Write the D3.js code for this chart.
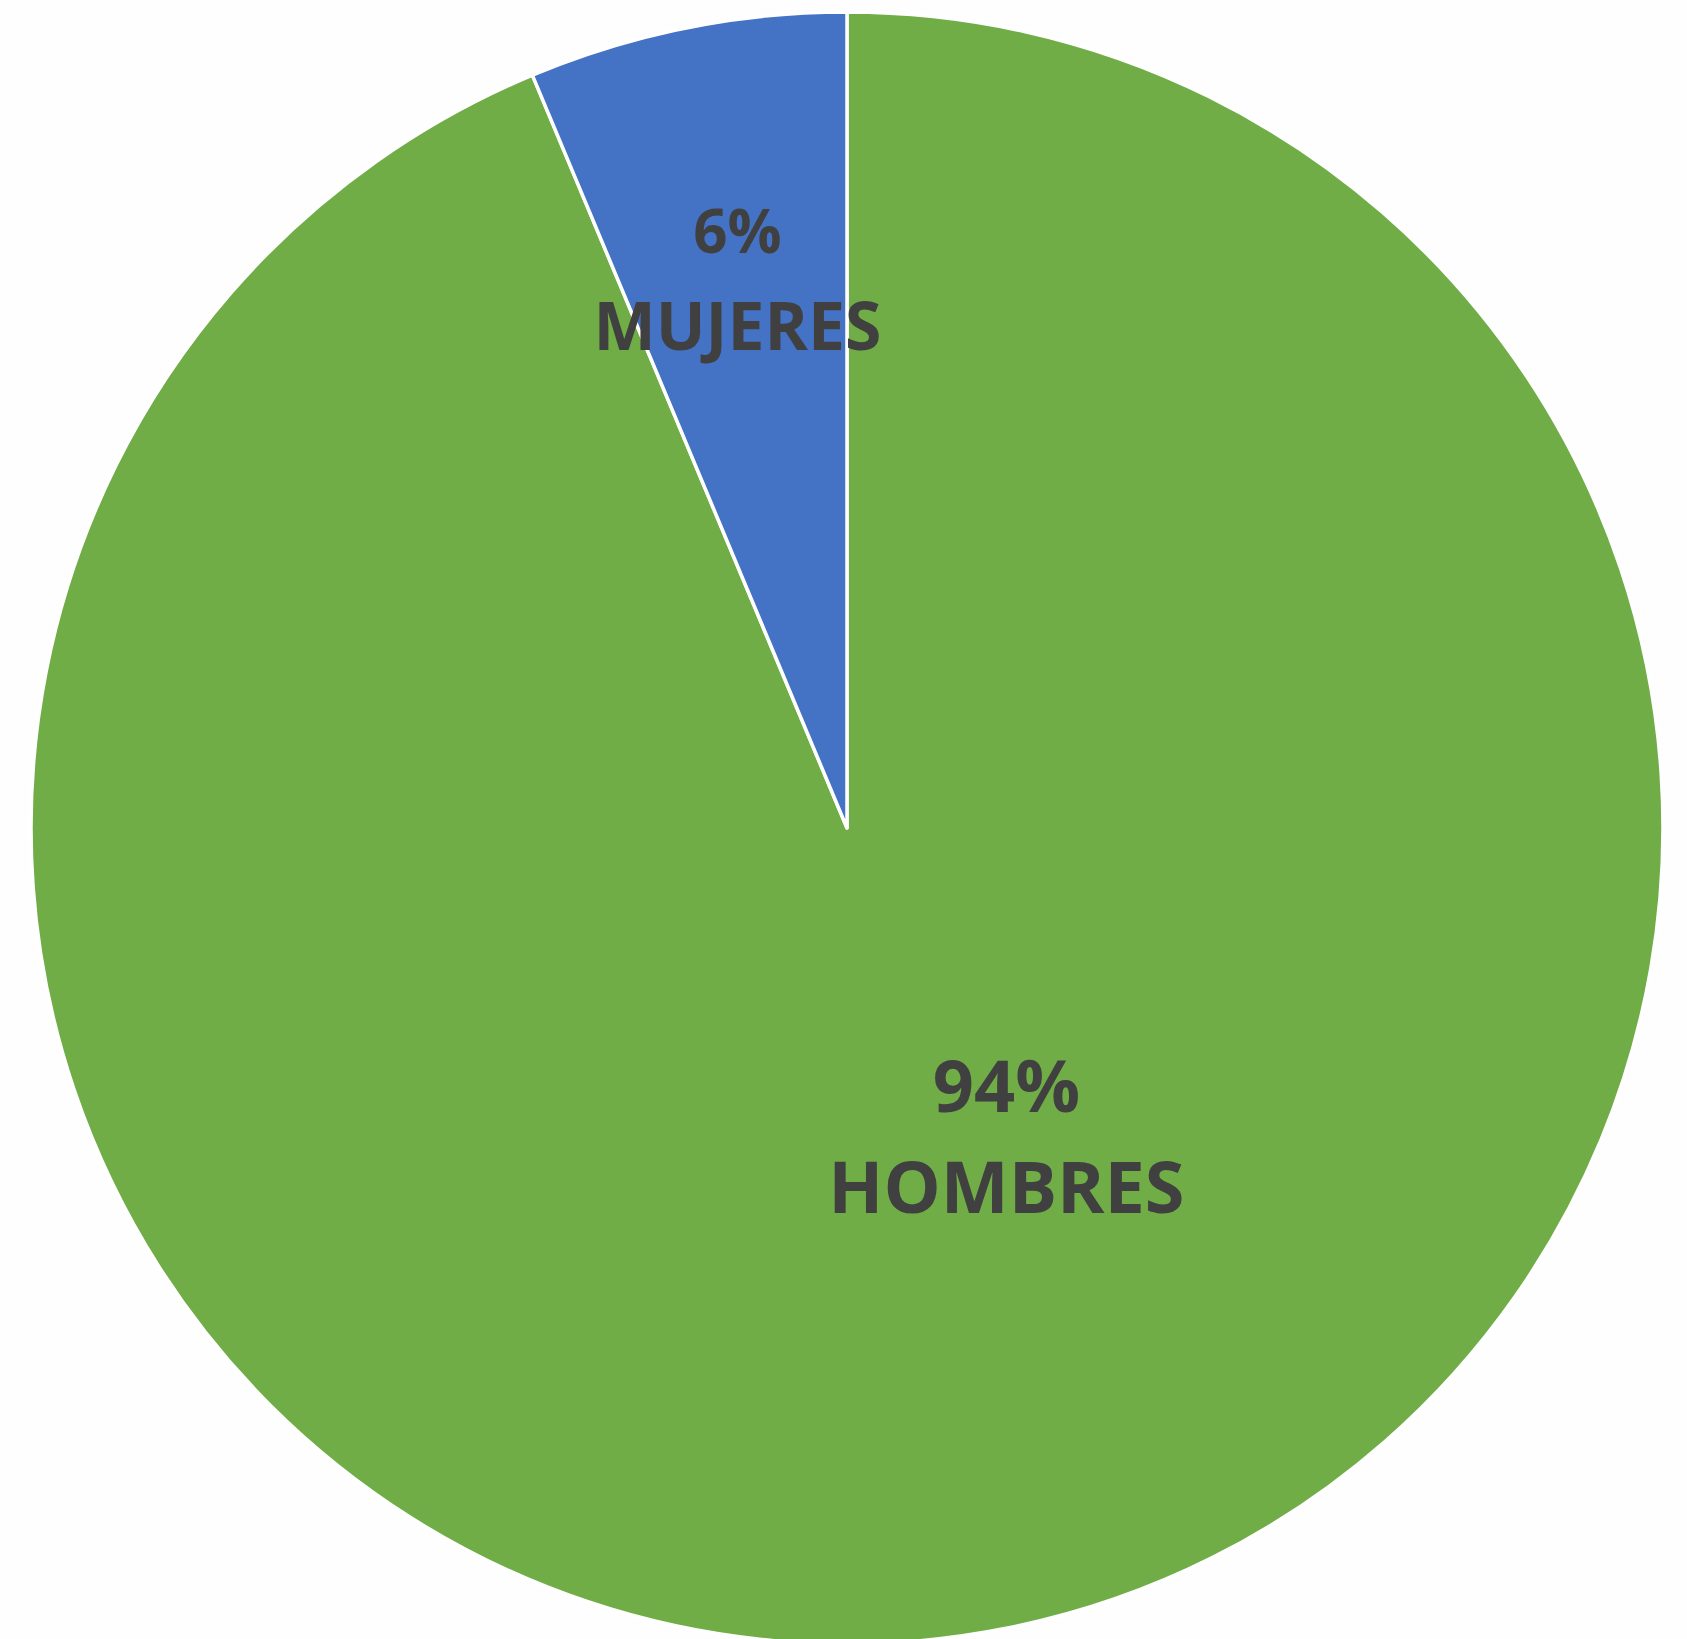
<!DOCTYPE html>
<html><head><meta charset="utf-8">
<script src="https://cdn.jsdelivr.net/npm/d3@7"></script>
<style>html,body{margin:0;padding:0;background:#fefefe;}svg{display:block;}</style>
</head><body>
<svg id="chart" width="1687" height="1639"></svg>
<script>
const categories = ["HOMBRES", "MUJERES"];
const values = [93.7, 6.3];
const colors = ["#70AD47", "#4472C4"];

const W = 1687, H = 1639;
const cx = 847, cy = 828, R = 816;
const svg = d3.select("#chart");
const g = svg.append("g").attr("transform", `translate(${cx},${cy})`);

const data = categories.map((c, i) => ({name: c, value: values[i], color: colors[i]}));
const total = d3.sum(values);
const pie = d3.pie().sort(null).value(d => d.value);
const arcs = pie(data);
const arc = d3.arc().innerRadius(0).outerRadius(R);

g.selectAll("path").data(arcs).join("path")
  .attr("d", arc)
  .attr("fill", d => d.data.color)
  .attr("stroke", "#ffffff")
  .attr("stroke-width", 3.5)
  .attr("stroke-linejoin", "round");

// label placement (best-fit style): radius fraction, angular shift (rad), line offsets and sizes
const labelLayout = {
  HOMBRES: {r: 0.424, shift: -0.281, off1: -23, off2: 78, fs1: 72, fs2: 72},
  MUJERES: {r: 0.683, shift: 0, off1: -29, off2: 68, fs1: 60, fs2: 66}
};
arcs.forEach(a => {
  const L = labelLayout[a.data.name];
  const ang = (a.startAngle + a.endAngle) / 2 + L.shift;
  const x = Math.sin(ang) * R * L.r;
  const y = -Math.cos(ang) * R * L.r;
  const t = g.append("text")
    .attr("text-anchor", "middle")
    .attr("font-family", "'Open Sans', sans-serif")
    .attr("font-weight", "bold")
    .attr("fill", "#404040");
  t.append("tspan").attr("x", x).attr("y", y + L.off1).attr("font-size", L.fs1)
    .text(d3.format(".0%")(a.data.value / total));
  t.append("tspan").attr("x", x).attr("y", y + L.off2).attr("font-size", L.fs2)
    .text(a.data.name);
});
</script>
</body></html>
